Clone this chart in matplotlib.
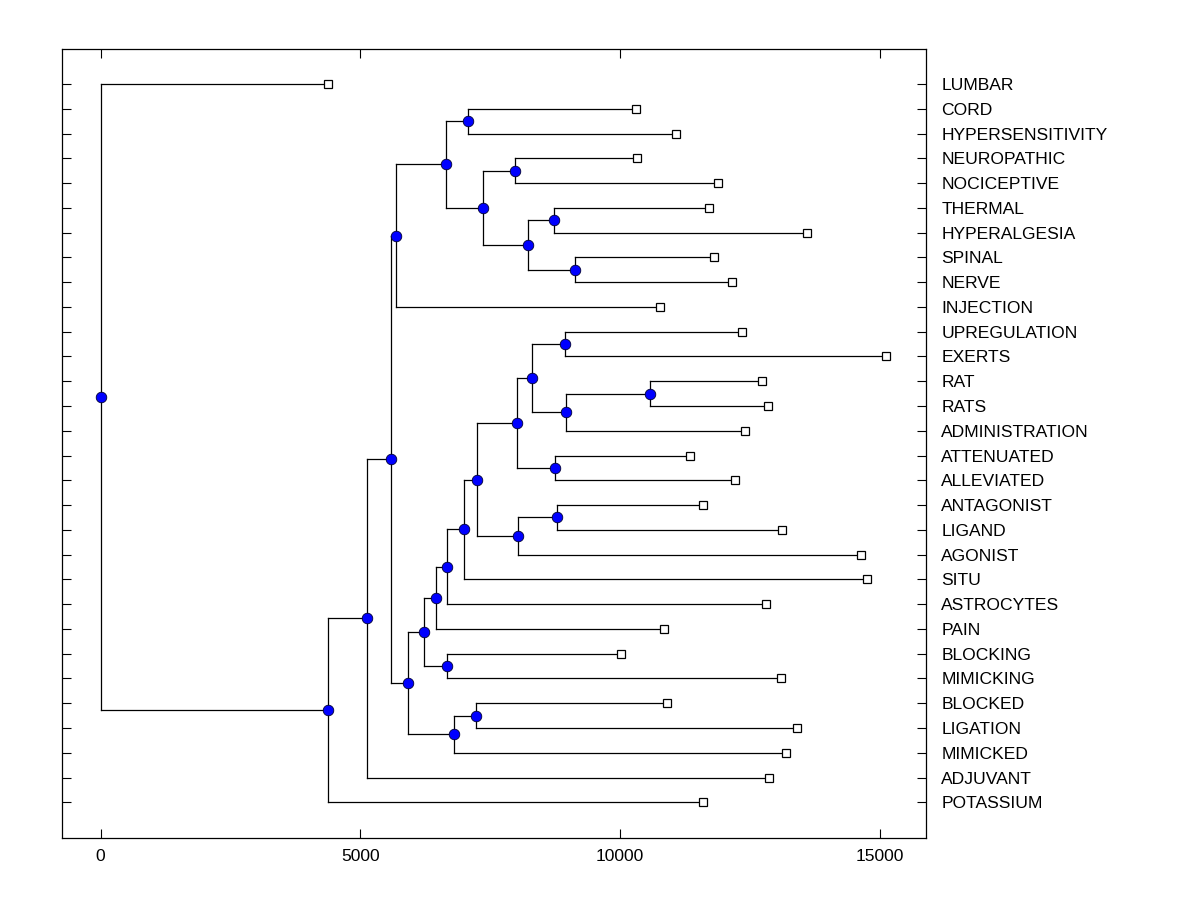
import matplotlib
matplotlib.use("Agg")
import matplotlib.pyplot as plt

# ---- data ----
leaf_labels = ["LUMBAR", "CORD", "HYPERSENSITIVITY", "NEUROPATHIC", "NOCICEPTIVE",
               "THERMAL", "HYPERALGESIA", "SPINAL", "NERVE", "INJECTION",
               "UPREGULATION", "EXERTS", "RAT", "RATS", "ADMINISTRATION",
               "ATTENUATED", "ALLEVIATED", "ANTAGONIST", "LIGAND", "AGONIST",
               "SITU", "ASTROCYTES", "PAIN", "BLOCKING", "MIMICKING",
               "BLOCKED", "LIGATION", "MIMICKED", "ADJUVANT", "POTASSIUM"]
leaf_dist = [4379, 10308, 11078, 10327, 11886,
             11713, 13600, 11810, 12156, 10770,
             12349, 15120, 12733, 12849, 12406,
             11348, 12214, 11598, 13118, 14639,
             14754, 12811, 10847, 10019, 13099,
             10905, 13407, 13195, 12868, 11598]

# internal nodes (bottom-up): name, left child, right child, distance
node_names = ["K", "L", "J", "I", "H", "G", "F", "D",
              "AB", "AA", "Z", "X", "Y", "U", "W", "V", "T", "S", "R", "P",
              "Q", "M", "O", "N", "E", "C", "B", "A", "root"]
node_left = ["THERMAL", "SPINAL", "K", "NEUROPATHIC", "I", "CORD", "G", "F",
             "RAT", "AB", "UPREGULATION", "Z", "ATTENUATED", "X", "ANTAGONIST", "W", "U", "T", "S", "R",
             "BLOCKING", "P", "BLOCKED", "O", "M", "D", "C", "B", "LUMBAR"]
node_right = ["HYPERALGESIA", "NERVE", "L", "NOCICEPTIVE", "J", "HYPERSENSITIVITY", "H", "INJECTION",
              "RATS", "ADMINISTRATION", "EXERTS", "AA", "ALLEVIATED", "Y", "LIGAND", "AGONIST", "V", "SITU", "ASTROCYTES", "PAIN",
              "MIMICKING", "Q", "LIGATION", "MIMICKED", "N", "E", "ADJUVANT", "POTASSIUM", "A"]
node_dist = [8729, 9134, 8229, 7979, 7363, 7074, 6651, 5688,
             10578, 8961, 8941, 8306, 8749, 8017, 8787, 8037, 7247, 6997, 6670, 6458,
             6670, 6227, 7228, 6805, 5919, 5592, 5138, 4379, 0]

x_ticks = [0, 5000, 10000, 15000]

# ---- layout ----
plt.rcParams['font.family'] = ['Liberation Sans', 'DejaVu Sans']
fig = plt.figure(figsize=(12, 9), dpi=100)
ax = fig.add_axes([0.0517, 0.0689, 0.7200, 0.8767])

pos = {}
for i, (lab, d) in enumerate(zip(leaf_labels, leaf_dist)):
    pos[lab] = (d, float(i))

lw = 0.9
for name, l, r, d in zip(node_names, node_left, node_right, node_dist):
    xl, yl = pos[l]
    xr, yr = pos[r]
    ax.plot([d, d], [yl, yr], color='black', lw=lw, zorder=1)
    ax.plot([d, xl], [yl, yl], color='black', lw=lw, zorder=1)
    ax.plot([d, xr], [yr, yr], color='black', lw=lw, zorder=1)
    pos[name] = (d, (yl + yr) / 2.0)

# internal node markers
nx = [pos[n][0] for n in node_names]
ny = [pos[n][1] for n in node_names]
ax.plot(nx, ny, linestyle='none', marker='o', markersize=7.6,
        markerfacecolor='#0000ff', markeredgecolor='#000033', markeredgewidth=0.6, zorder=3)

# leaf markers
ax.plot(leaf_dist, list(range(len(leaf_labels))), linestyle='none', marker='s', markersize=6.0,
        markerfacecolor='white', markeredgecolor='black', markeredgewidth=0.9, zorder=3)

ax.set_xlim(-741, 15891)
ax.set_ylim(30.44, -1.414)
ax.set_xticks(x_ticks)
ax.set_xticklabels([str(t) for t in x_ticks], fontsize=12.6)
ax.set_yticks(range(len(leaf_labels)))
ax.set_yticklabels(leaf_labels, fontsize=12.6)

ax.tick_params(axis='x', which='both', direction='in', length=6.5, width=0.8,
               top=True, bottom=True, labeltop=False, labelbottom=True, pad=8)
ax.tick_params(axis='y', which='both', direction='in', length=6.5, width=0.8,
               left=True, right=True, labelleft=False, labelright=True, pad=11)
for sp in ax.spines.values():
    sp.set_linewidth(0.9)

fig.savefig("out.png", dpi=100)
